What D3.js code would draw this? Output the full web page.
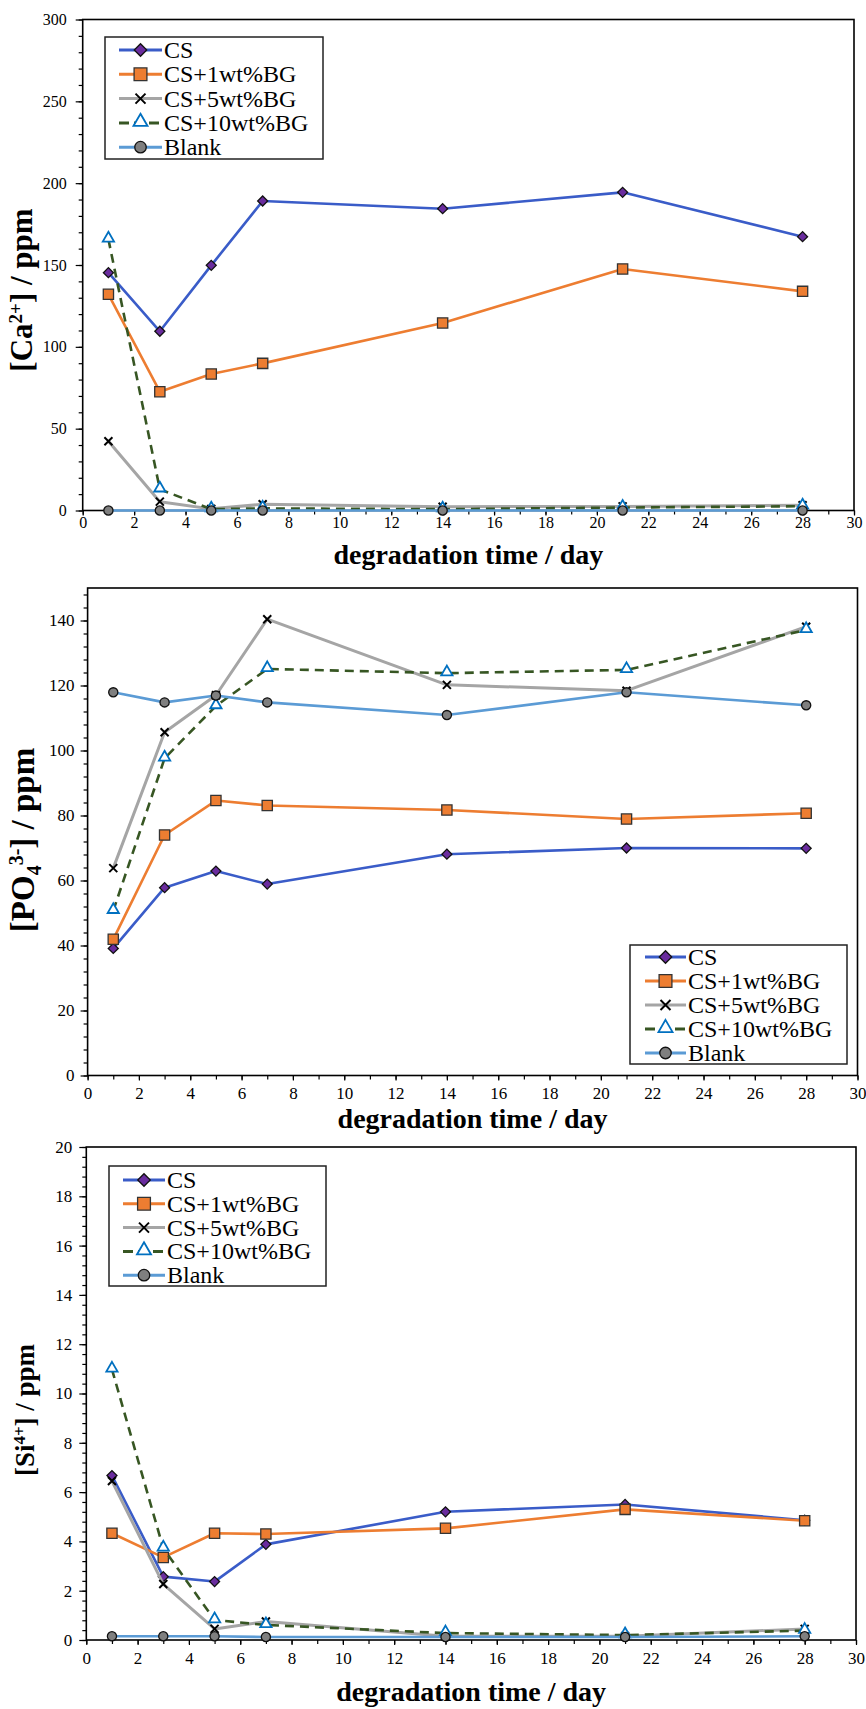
<!DOCTYPE html>
<html>
<head>
<meta charset="utf-8">
<script src="https://cdn.jsdelivr.net/npm/d3@7"></script>
<style>
  body { margin: 0; background: #fff; }
  svg { display: block; }
</style>
</head>
<body>
<svg id="chart" width="866" height="1709"></svg>
<script>
(function () {
    'use strict';

    // ---- data ----
    var days = [1, 3, 5, 7, 14, 21, 28];
    var seriesNames = ["CS", "CS+1wt%BG", "CS+5wt%BG", "CS+10wt%BG", "Blank"];
    var xTicks = [0, 2, 4, 6, 8, 10, 12, 14, 16, 18, 20, 22, 24, 26, 28, 30];

    // [Ca2+] / ppm
    var caCS = [145.3, 109.5, 149.8, 189.1, 184.4, 194.4, 167.3];
    var caBG1 = [132.1, 72.6, 83.4, 89.9, 114.6, 147.6, 133.9];
    var caBG5 = [42.3, 5.4, 1.0, 3.8, 2.3, 2.5, 3.2];
    var caBG10 = [165.7, 13.0, 0.8, 1.3, 0.8, 1.8, 2.6];
    var caBlank = [0, 0, 0, 0, 0, 0, 0];
    var caTicks = [0, 50, 100, 150, 200, 250, 300];

    // [PO4 3-] / ppm
    var poCS = [39.1, 57.8, 62.9, 58.9, 68.1, 70.0, 69.9];
    var poBG1 = [41.9, 74.0, 84.6, 83.1, 81.7, 78.9, 80.7];
    var poBG5 = [63.8, 105.6, 117.0, 140.4, 120.2, 118.4, 138.1];
    var poBG10 = [50.7, 97.6, 113.7, 125.1, 123.8, 124.8, 137.1];
    var poBlank = [117.9, 114.8, 116.9, 114.8, 110.9, 117.9, 113.9];
    var poTicks = [0, 20, 40, 60, 80, 100, 120, 140];

    // [Si4+] / ppm
    var siCS = [6.67, 2.57, 2.37, 3.88, 5.2, 5.5, 4.86];
    var siBG1 = [4.33, 3.35, 4.33, 4.3, 4.53, 5.3, 4.84];
    var siBG5 = [6.45, 2.27, 0.45, 0.75, 0.15, 0.15, 0.45];
    var siBG10 = [10.98, 3.72, 0.81, 0.61, 0.28, 0.2, 0.38];
    var siBlank = [0.15, 0.15, 0.15, 0.12, 0.12, 0.12, 0.15];
    var siTicks = [0, 2, 4, 6, 8, 10, 12, 14, 16, 18, 20];

    var serif = "'Liberation Serif', 'Times New Roman', serif";

    var styles = [
        { line: "#3a5cc8", width: 2.6, dash: null, marker: "diamond", fill: "#6a2c9e", stroke: "#111" },
        { line: "#ed7d31", width: 2.6, dash: null, marker: "square", fill: "#ed7d31", stroke: "#333" },
        { line: "#a5a5a5", width: 3, dash: null, marker: "times", fill: "none", stroke: "#000" },
        { line: "#375623", width: 2.6, dash: "9,6", marker: "triangle", fill: "#fff", stroke: "#0070c0" },
        { line: "#5b9bd5", width: 2.6, dash: null, marker: "circle", fill: "#7f7f7f", stroke: "#111" }
    ];

    var panels = [
        {
            series: [caCS, caBG1, caBG5, caBG10, caBlank], yMax: 300, yTicks: caTicks, yMinor: 10,
            left: 82.7, right: 854, top: 19.5, bottom: 510.5,
            xFont: 16, xPad: 1, yFont: 16, yPad: 9,
            title: [{ t: "[Ca" }, { t: "2+", s: "sup" }, { t: "] / ppm" }],
            titleX: 32, titleY: 290, titleSize: 31, xTitleY: 564,
            legend: { x: 105, y: 37, w: 218, h: 122, row0: 50, step: 24.3, l0: 119, l1: 162, tx: 164 }
        },
        {
            series: [poCS, poBG1, poBG5, poBG10, poBlank], yMax: 150, yTicks: poTicks, yMinor: 4,
            left: 87.6, right: 857.5, top: 588, bottom: 1075.5,
            xFont: 17, xPad: 6, yFont: 17, yPad: 6,
            title: [{ t: "[PO" }, { t: "4", s: "sub" }, { t: "3-", s: "sup" }, { t: "] / ppm" }],
            titleX: 34, titleY: 840, titleSize: 33, xTitleY: 1128,
            legend: { x: 630, y: 945, w: 217, h: 119, row0: 957, step: 24, l0: 645, l1: 686, tx: 688 }
        },
        {
            series: [siCS, siBG1, siBG5, siBG10, siBlank], yMax: 20, yTicks: siTicks, yMinor: 0.4,
            left: 86.3, right: 856, top: 1147, bottom: 1640,
            xFont: 17, xPad: 7, yFont: 17, yPad: 7,
            title: [{ t: "[Si" }, { t: "4+", s: "sup" }, { t: "] / ppm" }],
            titleX: 34, titleY: 1410, titleSize: 27, xTitleY: 1701,
            legend: { x: 109, y: 1166, w: 217, h: 120, row0: 1180, step: 23.8, l0: 123, l1: 165, tx: 167 }
        }
    ];

    var svg = d3.select("#chart");

    function drawMarker(g, type, cx, cy, k, st) {
        var m;
        if (type === "diamond") {
            m = g.append("path").attr("d", d3.symbol(d3.symbolSquare, 50 * k * k)())
                .attr("transform", "translate(" + cx + "," + cy + ") rotate(45)");
        } else if (type === "square") {
            m = g.append("path").attr("d", d3.symbol(d3.symbolSquare, 105 * k * k)())
                .attr("transform", "translate(" + cx + "," + cy + ")");
        } else if (type === "triangle") {
            m = g.append("path").attr("d", d3.symbol(d3.symbolTriangle, 55 * k * k)())
                .attr("transform", "translate(" + cx + "," + (cy - 1) + ")");
        } else if (type === "circle") {
            m = g.append("path").attr("d", d3.symbol(d3.symbolCircle, 66 * k * k)())
                .attr("transform", "translate(" + cx + "," + cy + ")");
        } else {
            var a = 4 * k;
            m = g.append("path").attr("d", "M" + (-a) + "," + (-a) + "L" + a + "," + a + "M" + a + "," + (-a) + "L" + (-a) + "," + a)
                .attr("transform", "translate(" + cx + "," + cy + ")");
        }
        m.attr("fill", st.fill)
            .attr("stroke", st.stroke)
            .attr("stroke-width", type === "triangle" ? 1.8 : (type === "times" ? 2 : 1.3));
    }

    panels.forEach(function (p) {
        var g = svg.append("g");
        var x = d3.scaleLinear().domain([0, 30]).range([p.left, p.right]);
        var y = d3.scaleLinear().domain([0, p.yMax]).range([p.bottom, p.top]);

        // minor ticks
        var minorY = d3.range(0, p.yMax + 1e-6, p.yMinor);
        g.append("g").attr("transform", "translate(" + p.left + ",0)")
            .call(d3.axisLeft(y).tickValues(minorY).tickSize(4).tickFormat(""))
            .call(function (a) { a.select(".domain").remove(); });
        g.append("g").attr("transform", "translate(0," + p.bottom + ")")
            .call(d3.axisBottom(x).tickValues(d3.range(0, 31, 1)).tickSize(4).tickFormat(""))
            .call(function (a) { a.select(".domain").remove(); });

        // major ticks + labels
        g.append("g").attr("transform", "translate(" + p.left + ",0)")
            .call(d3.axisLeft(y).tickValues(p.yTicks).tickSize(7).tickPadding(p.yPad).tickFormat(d3.format("d")))
            .call(function (a) { a.select(".domain").remove(); })
            .attr("font-family", serif).attr("font-size", p.yFont);
        g.append("g").attr("transform", "translate(0," + p.bottom + ")")
            .call(d3.axisBottom(x).tickValues(xTicks).tickSize(5).tickPadding(p.xPad))
            .call(function (a) { a.select(".domain").remove(); })
            .attr("font-family", serif).attr("font-size", p.xFont);
        g.selectAll(".tick line").attr("stroke", "#000").attr("stroke-width", 1.2);
        g.selectAll(".tick text").attr("fill", "#000");

        // frame
        g.append("rect")
            .attr("x", p.left).attr("y", p.top)
            .attr("width", p.right - p.left).attr("height", p.bottom - p.top)
            .attr("fill", "none").attr("stroke", "#000").attr("stroke-width", 1.6);

        // series
        var line = d3.line()
            .x(function (d) { return x(d[0]); })
            .y(function (d) { return y(d[1]); });

        p.series.forEach(function (vals, i) {
            var st = styles[i];
            var pts = days.map(function (d, j) { return [d, vals[j]]; });
            g.append("path").datum(pts)
                .attr("d", line)
                .attr("fill", "none")
                .attr("stroke", st.line)
                .attr("stroke-width", st.width)
                .attr("stroke-dasharray", st.dash)
                .attr("stroke-linejoin", "round");
            pts.forEach(function (d) {
                drawMarker(g, st.marker, x(d[0]), y(d[1]), 1, st);
            });
        });

        // legend
        var L = p.legend;
        var lg = g.append("g");
        lg.append("rect")
            .attr("x", L.x).attr("y", L.y).attr("width", L.w).attr("height", L.h)
            .attr("fill", "#fff").attr("stroke", "#222").attr("stroke-width", 1.5);
        seriesNames.forEach(function (name, i) {
            var st = styles[i];
            var ry = L.row0 + i * L.step;
            lg.append("line")
                .attr("x1", L.l0).attr("x2", L.l1).attr("y1", ry).attr("y2", ry)
                .attr("stroke", st.line).attr("stroke-width", 3)
                .attr("stroke-dasharray", st.dash ? "10,5" : null);
            drawMarker(lg, st.marker, (L.l0 + L.l1) / 2, ry, 1.25, st);
            lg.append("text")
                .attr("x", L.tx).attr("y", ry + 8)
                .attr("font-family", serif).attr("font-size", 24)
                .text(name);
        });

        // axis titles
        g.append("text")
            .attr("x", (p.left + p.right) / 2).attr("y", p.xTitleY)
            .attr("text-anchor", "middle")
            .attr("font-family", serif).attr("font-weight", "bold").attr("font-size", 28)
            .text("degradation time / day");

        var yt = g.append("text")
            .attr("transform", "translate(" + p.titleX + "," + p.titleY + ") rotate(-90)")
            .attr("text-anchor", "middle")
            .attr("font-family", serif).attr("font-weight", "bold").attr("font-size", p.titleSize);
        var shift = 0;
        var sub = Math.round(p.titleSize * 0.62);
        p.title.forEach(function (part) {
            var ts = yt.append("tspan").text(part.t);
            var target = part.s === "sup" ? -Math.round(p.titleSize * 0.33) :
                (part.s === "sub" ? Math.round(p.titleSize * 0.2) : 0);
            ts.attr("dy", target - shift);
            if (part.s) ts.attr("font-size", sub);
            shift = target;
        });
    });
})();
</script>
</body>
</html>
